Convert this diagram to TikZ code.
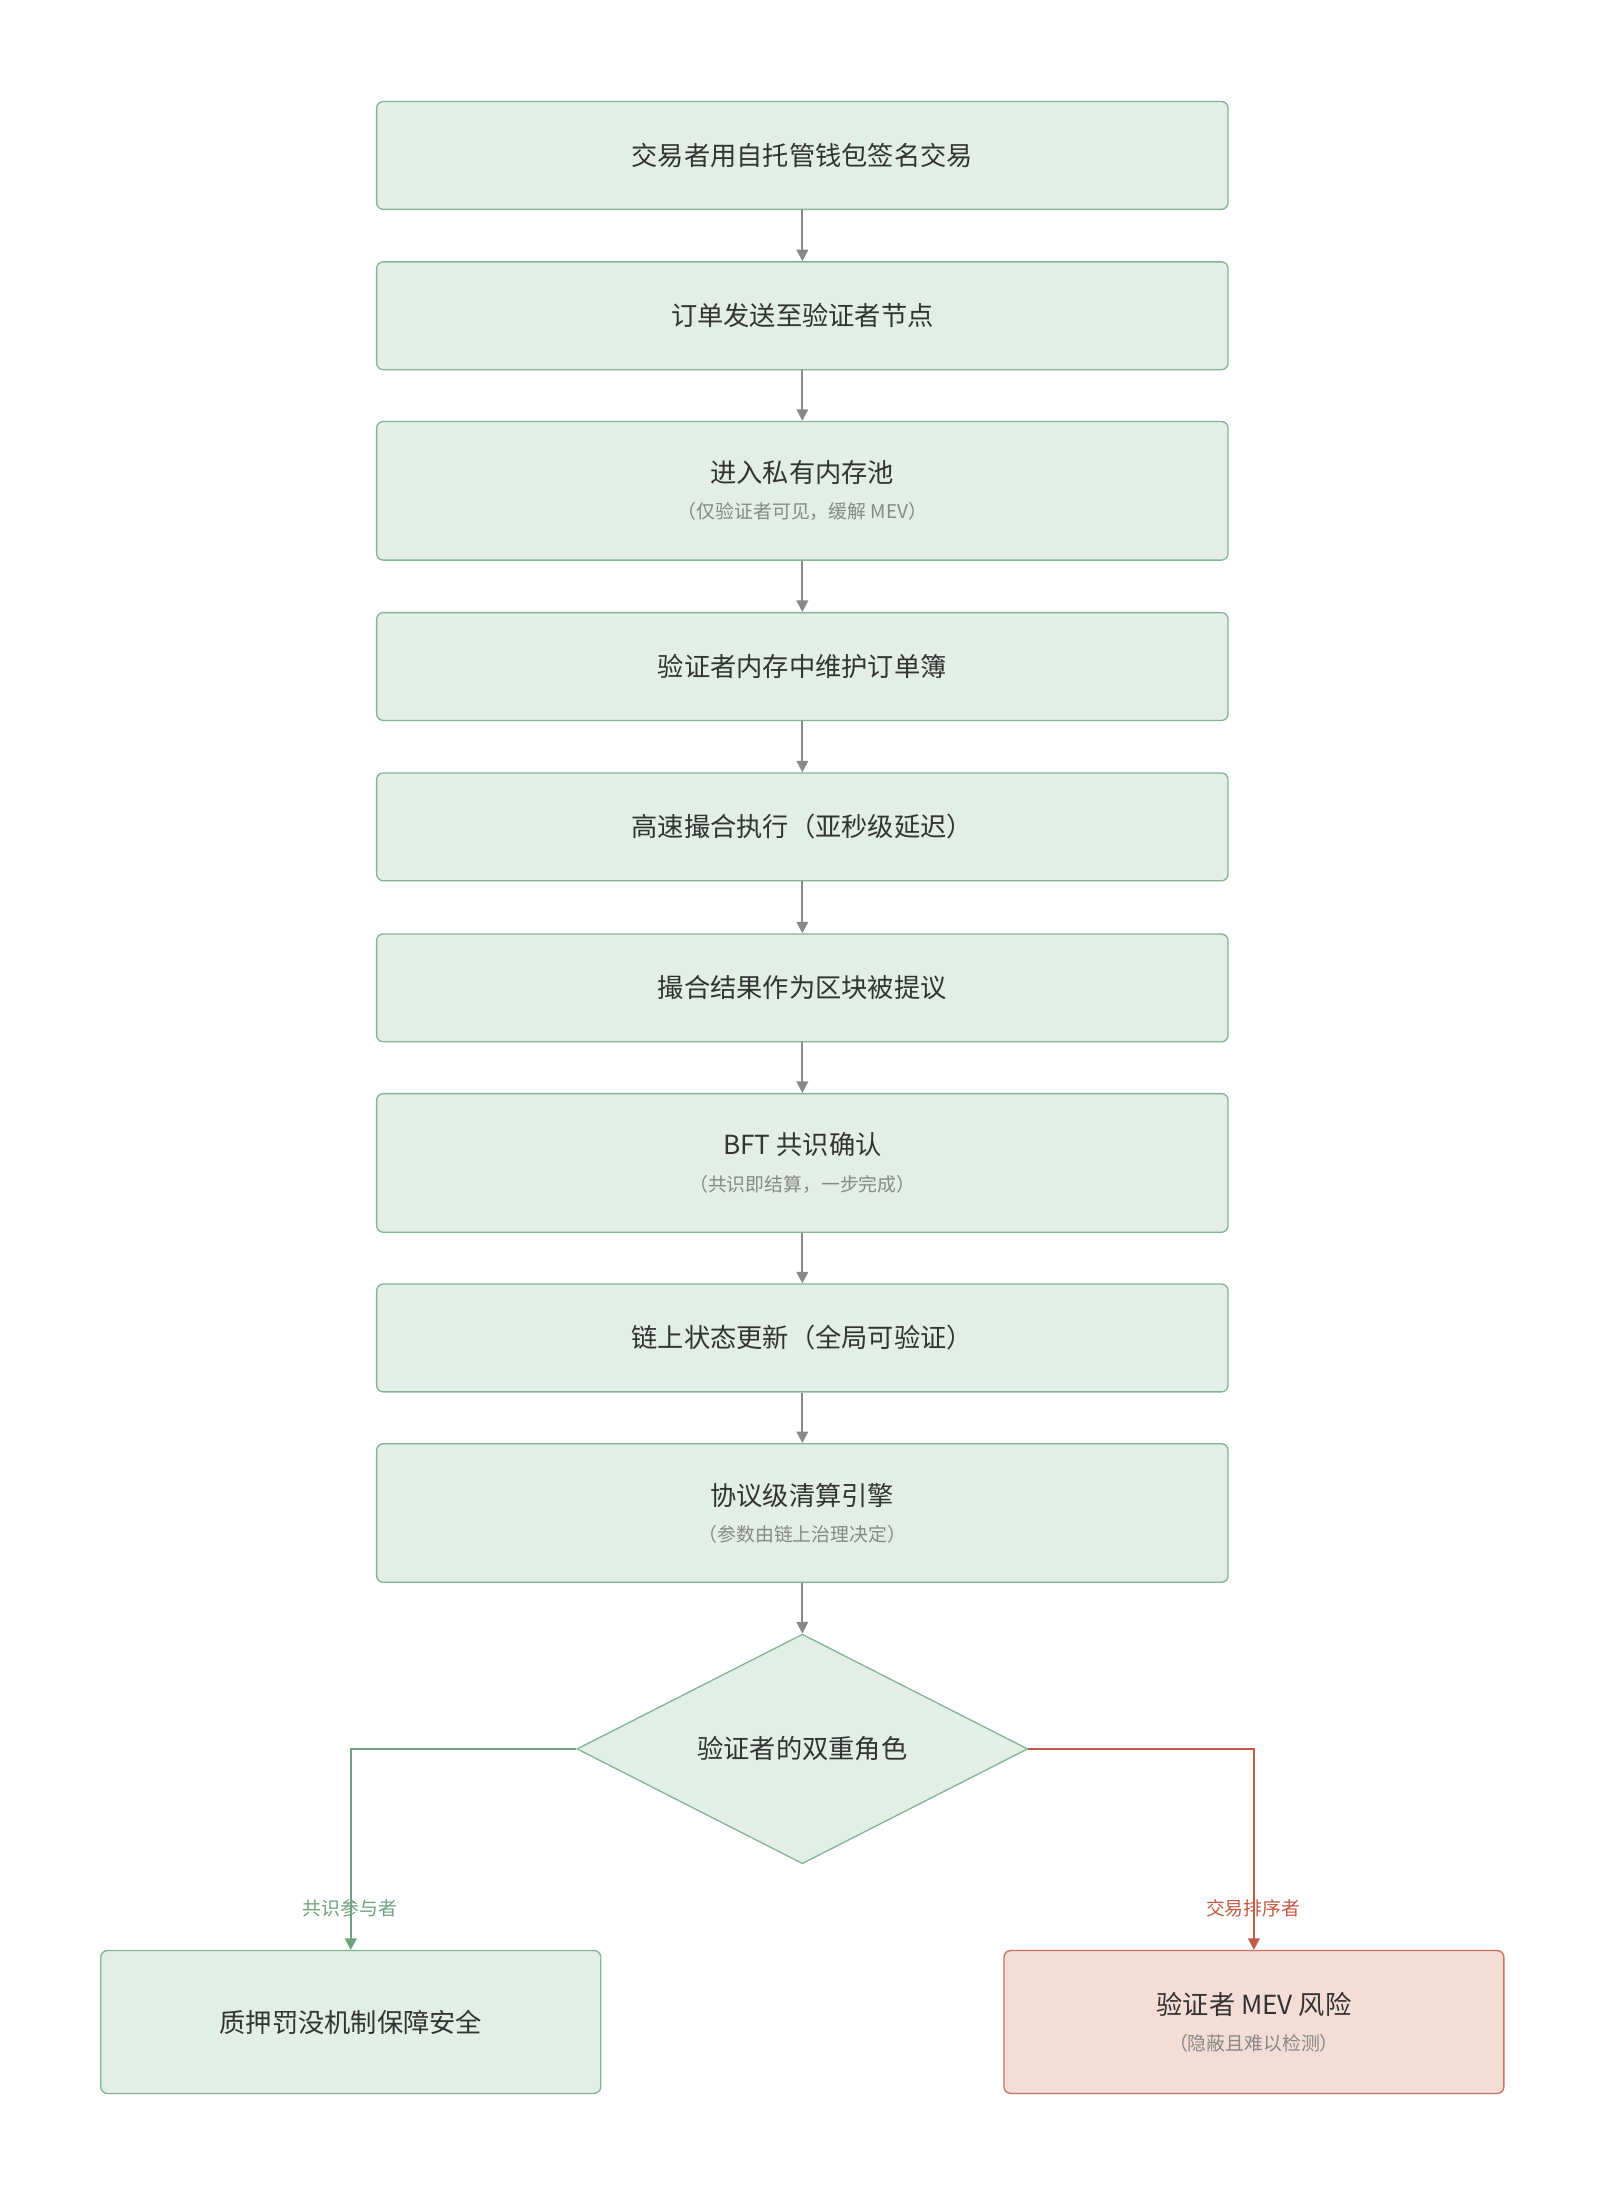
\documentclass[tikz,border=0pt]{standalone}
\usepackage{fontspec}
\setmainfont{Noto Sans CJK SC}
\usetikzlibrary{shapes.geometric,arrows.meta}
\definecolor{gfill}{HTML}{E2EEE6}
\definecolor{gline}{HTML}{82B592}
\definecolor{rfill}{HTML}{F3DDD6}
\definecolor{rline}{HTML}{C8705E}
\definecolor{arr}{HTML}{888888}
\definecolor{gpath}{HTML}{6FA27F}
\definecolor{rpath}{HTML}{C45A45}
\definecolor{txt}{HTML}{333333}
\definecolor{sub}{HTML}{888888}
\begin{document}
\begin{tikzpicture}[x=0.03cm,y=-0.03cm,
 box/.style={draw=gline,fill=gfill,rounded corners=4pt,line width=0.8pt,minimum width=18.24cm,text=txt,font=\fontsize{16}{20}\selectfont,align=center},
 b1/.style={box,minimum height=2.31cm},
 b2/.style={box,minimum height=2.97cm},
 a/.style={draw=arr,line width=1.3pt,-{Triangle[width=7pt,length=7pt]}},
 s/.style={font=\fontsize{11.5}{14}\selectfont,text=sub}]
\useasboundingbox (0,0) rectangle (1143,1564);
\newcommand{\two}[2]{#1\\[2pt]{\fontsize{11.5}{14}\selectfont\color{sub}#2}}
\node[b1] (n1) at (573,111) {交易者用自托管钱包签名交易};
\node[b1] (n2) at (573,225.5) {订单发送至验证者节点};
\node[b2] (n3) at (573,350.5) {\two{进入私有内存池}{（仅验证者可见，缓解 MEV）}};
\node[b1] (n4) at (573,476) {验证者内存中维护订单簿};
\node[b1] (n5) at (573,590.5) {高速撮合执行（亚秒级延迟）};
\node[b1] (n6) at (573,705.5) {撮合结果作为区块被提议};
\node[b2] (n7) at (573,830.5) {\two{BFT 共识确认}{（共识即结算，一步完成）}};
\node[b1] (n8) at (573,955.5) {链上状态更新（全局可验证）};
\node[b2] (n9) at (573,1080.5) {\two{协议级清算引擎}{（参数由链上治理决定）}};
\node[diamond,draw=gline,fill=gfill,line width=0.8pt,minimum width=9.66cm,minimum height=4.92cm,inner sep=0pt,aspect=2,text=txt,font=\fontsize{16}{20}\selectfont] (d) at (573,1249) {验证者的双重角色};
\node[box,minimum width=10.71cm,minimum height=3.06cm] (l) at (250.5,1444) {质押罚没机制保障安全};
\node[box,draw=rline,fill=rfill,minimum width=10.71cm,minimum height=3.06cm] (r) at (895.5,1444) {\two{验证者 MEV 风险}{（隐蔽且难以检测）}};
\foreach \p/\q in {n1/n2,n2/n3,n3/n4,n4/n5,n5/n6,n6/n7,n7/n8,n8/n9,n9/d}
  \draw[a] (\p) -- (\q);
\draw[a,draw=gpath] (d.west) -| (l.north);
\draw[a,draw=rpath] (d.east) -| (r.north);
\node[s,text=gpath] at (250,1363) {共识参与者};
\node[s,text=rpath] at (895,1363) {交易排序者};
\end{tikzpicture}
\end{document}
